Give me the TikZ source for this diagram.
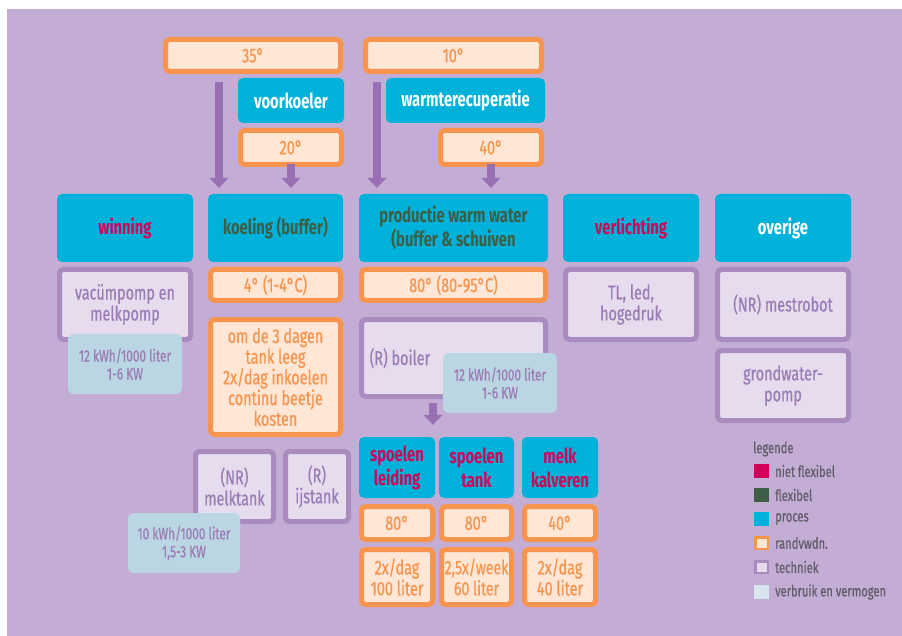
\documentclass[tikz,border=0pt]{standalone}
\usepackage{fontspec}
\setmainfont{Fira Sans}[FakeStretch=0.72]
\newfontfamily\halfvet{Fira Sans}[FakeStretch=0.72, FakeBold=0.6]
\usetikzlibrary{arrows.meta}

\definecolor{achtergrond}{HTML}{C3ADD4}
\definecolor{proces}{HTML}{00B2DA}
\definecolor{nietflex}{HTML}{D4005A}
\definecolor{flex}{HTML}{3E5E45}
\definecolor{randlijn}{HTML}{F7954F}
\definecolor{randvul}{HTML}{FFE6D5}
\definecolor{techlijn}{HTML}{A98BC0}
\definecolor{techvul}{HTML}{E6DCEE}
\definecolor{techtekst}{HTML}{9B7CB5}
\definecolor{verbruik}{HTML}{BAD6E3}
\definecolor{pijlkleur}{HTML}{9A70B4}
\definecolor{legtekst}{HTML}{625C69}

\tikzset{
  maat/.style args={#1x#2}{minimum width=#1pt, minimum height=#2pt},
  proces/.style={fill=proces, rounded corners=5pt, inner sep=0pt, align=center,
    font=\bfseries\fontsize{20.5}{24}\selectfont},
  randv/.style={draw=randlijn, fill=randvul, line width=5pt, rounded corners=4pt,
    text=randlijn, inner sep=0pt, align=center, font=\halfvet\fontsize{20}{20.7}\selectfont},
  techniek/.style={draw=techlijn, fill=techvul, line width=5pt, rounded corners=4pt,
    text=techtekst, inner sep=0pt, align=center, font=\halfvet\fontsize{20}{21}\selectfont},
  verbruik/.style={fill=verbruik, rounded corners=6pt, text=techtekst, inner sep=0pt,
    align=center, font=\halfvet\fontsize{16.4}{18}\selectfont},
  pijl/.style={draw=pijlkleur, line width=8pt, -{Triangle[width=19pt,length=10pt]}},
  legvak/.style={minimum width=15pt, minimum height=14pt, inner sep=0pt},
  legtxt/.style={anchor=west, text=legtekst, inner sep=0pt, font=\halfvet\fontsize{15.5}{16}\selectfont},
}

\begin{document}
\begin{tikzpicture}[x=1pt, y=-1pt]
  \useasboundingbox (0,0) rectangle (902,636);
  \fill[achtergrond] (7,9) rectangle (902,636);

  % bovenste rij
  \node[randv, maat=175x32] (t35) at (253,55.5) {35°};
  \node[randv, maat=176x32] (t10) at (453.5,55.5) {10°};
  \node[proces, maat=106x45, text=white] (voorkoeler) at (291,100.5) {voorkoeler};
  \node[proces, maat=159x45, text=white] (recup) at (465.5,100.5) {warmterecuperatie};
  \node[randv, maat=101x34] (t20) at (291,147.5) {20°};
  \node[randv, maat=101x34] (t40) at (491,147.5) {40°};

  % processen
  \node[proces, maat=136x68, text=nietflex] (winning) at (125,228) {winning};
  \node[proces, maat=135x68, text=flex] (koeling) at (275.5,228) {koeling (buffer)};
  \node[proces, maat=189x68, text=flex] (productie) at (453.5,228) {productie warm water\\(buffer \& schuiven};
  \node[proces, maat=136x68, text=nietflex] (verlichting) at (631,228) {verlichting};
  \node[proces, maat=136x68, text=white] (overige) at (783,228) {overige};

  % winning
  \node[techniek, maat=131x70] (pompen) at (125,304.5) {vacümpomp en\\melkpomp};
  \node[verbruik, maat=114x60] (vwinning) at (125,364) {12 kWh/1000 liter\\1-6 KW};

  % koeling
  \node[randv, maat=130x31] (t4) at (275.5,285) {4° (1-4°C)};
  \node[randv, maat=130x115] (dagen) at (275.5,377) {om de 3 dagen\\tank leeg\\2x/dag inkoelen\\continu beetje\\kosten};
  \node[techniek, maat=78x70] (melktank) at (234.5,486.5) {(NR)\\melktank};
  \node[techniek, maat=63x70] (ijstank) at (317,486.5) {(R)\\ijstank};
  \node[verbruik, maat=112x60] (vkoeling) at (184,543) {10 kWh/1000 liter\\1,5-3 KW};

  % warm water
  \node[randv, maat=184x31] (t80) at (453.5,285) {80° (80-95°C)};
  \node[techniek, maat=184x77] (boiler) at (453.5,358) {};
  \node[text=techtekst, anchor=west, inner sep=0pt, font=\halfvet\fontsize{20}{21}\selectfont]
    (boilertxt) at ([xshift=10.5pt]boiler.west) {(R) boiler};
  \node[verbruik, maat=114x60] (vboiler) at (500,383) {12 kWh/1000 liter\\1-6 KW};

  \node[proces, maat=76x61, text=nietflex] (spleiding) at (397,467.5) {spoelen\\leiding};
  \node[proces, maat=75x61, text=nietflex] (sptank) at (476.5,467.5) {spoelen\\tank};
  \node[proces, maat=76x61, text=nietflex] (kalveren) at (560,467.5) {melk\\kalveren};
  \node[randv, maat=71x33] (tleiding) at (397,523) {80°};
  \node[randv, maat=70x33] (ttank) at (476.5,523) {80°};
  \node[randv, maat=71x33] (tkalveren) at (560,523) {40°};
  \node[randv, maat=71x55, font=\halfvet\fontsize{20}{21}\selectfont] (fleiding) at (397,577) {2x/dag\\100 liter};
  \node[randv, maat=70x55, font=\halfvet\fontsize{19.5}{21}\selectfont] (ftank) at (476.5,577) {2,5x/week\\60 liter};
  \node[randv, maat=71x55, font=\halfvet\fontsize{20}{21}\selectfont] (fkalveren) at (560,577) {2x/dag\\40 liter};

  % verlichting en overige
  \node[techniek, maat=131x70] (lampen) at (631,304.5) {TL, led,\\hogedruk};
  \node[techniek, maat=131x70] (mestrobot) at (783,304.5) {(NR) mestrobot};
  \node[techniek, maat=131x70] (grondwater) at (783,385.5) {grondwater-\\pomp};

  % pijlen
  \coordinate (p35) at (219,82);
  \coordinate (p10) at (377,82);
  \coordinate (pboiler) at (433,403);
  \draw[pijl, shorten >=6pt] (p35) -- (p35 |- koeling.north);
  \draw[pijl, shorten >=6pt] ([yshift=2.5pt]t20.south) -- (t20.south |- koeling.north);
  \draw[pijl, shorten >=6pt] (p10) -- (p10 |- productie.north);
  \draw[pijl, shorten >=6pt] ([yshift=2.5pt]t40.south) -- (t40.south |- productie.north);
  \draw[pijl, shorten >=12pt] (pboiler) -- (pboiler |- spleiding.north);

  % legende
  \node[legtxt] (legende) at (753,449) {legende};
  \node[legvak, fill=nietflex] (lnf) at (761.5,471) {};
  \node[legvak, fill=flex] (lf) at (761.5,495) {};
  \node[legvak, fill=proces] (lp) at (761.5,519) {};
  \node[legvak, fill=randvul, draw=randlijn, line width=2.5pt, minimum width=12.5pt, minimum height=11.5pt] (lr) at (761.5,543) {};
  \node[legvak, fill=techvul, draw=techlijn, line width=2.5pt, minimum width=12.5pt, minimum height=11.5pt] (lt) at (761.5,567) {};
  \node[legvak, fill=verbruik!60!white] (lv) at (761.5,592) {};
  \node[legtxt] at (775,471) {niet flexibel};
  \node[legtxt] at (775,495) {flexibel};
  \node[legtxt] at (775,519) {proces};
  \node[legtxt] at (775,543) {randvwdn.};
  \node[legtxt] at (775,567) {techniek};
  \node[legtxt] at (775,592) {verbruik en vermogen};
\end{tikzpicture}
\end{document}
